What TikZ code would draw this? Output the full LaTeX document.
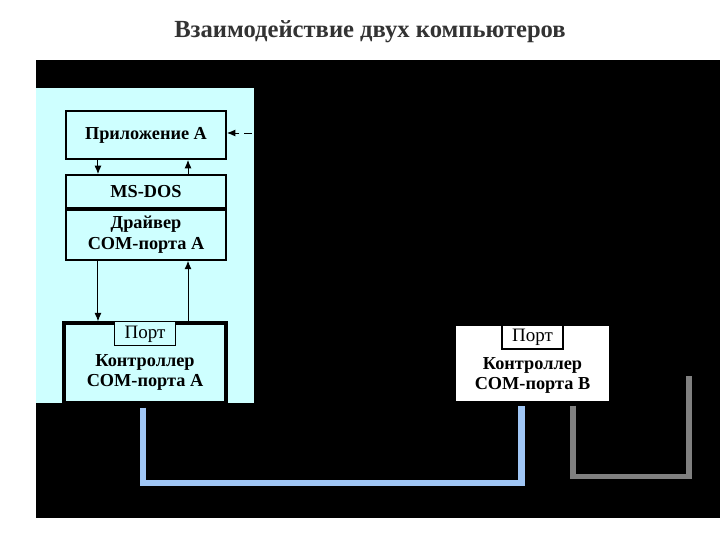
\documentclass[tikz,border=0pt]{standalone}
\usepackage{fontspec}
\setmainfont{Liberation Serif}
\usepackage{xcolor}
\usetikzlibrary{positioning,arrows.meta,calc}

\definecolor{panelcyan}{RGB}{206,255,255}
\definecolor{cableblue}{RGB}{160,198,245}
\definecolor{cablegray}{RGB}{128,128,128}

\begin{document}
\begin{tikzpicture}[
  x=0.025cm, y=-0.025cm,
  every node/.style={font=\fontsize{13}{14.5}\selectfont\bfseries, align=center},
  block/.style={rectangle, draw, line width=1.3pt, fill=panelcyan, minimum width=4cm, inner sep=0pt},
  ctrl/.style={rectangle, draw, line width=2pt, minimum width=4.05cm, minimum height=2cm, inner sep=0pt},
  port/.style={rectangle, draw, line width=0.8pt, minimum width=1.525cm, minimum height=0.6cm, inner sep=0pt, font=\fontsize{13.5}{15}\selectfont},
  arr/.style={-{Latex[length=6pt,width=5pt]}, line width=0.7pt},
  bluecable/.style={cableblue, line width=4.3pt},
  graycable/.style={cablegray, line width=3.6pt},
]
  \useasboundingbox (0,0) rectangle (720,540);
  \fill[white] (0,0) rectangle (720,540);

  % title
  \node[font=\fontsize{17.5}{20}\selectfont\bfseries, text=black!80] (title) at (370,32) {Взаимодействие двух компьютеров};

  % background and computer A panel
  \fill[black] (36,60) rectangle (720,518);
  \fill[panelcyan] (36,88) rectangle (254,403);

  % computer A
  \node[block, minimum height=1.2cm] (app) at (146,135) {Приложение А};
  \node[block, minimum height=0.825cm] (dos) at (146,191.5) {MS-DOS};
  \node[block, minimum height=1.25cm, below=0pt of dos] (drv) {Драйвер\\COM-порта А};
  \node[ctrl, fill=panelcyan, line width=2.4pt] (ctrlA) at (145,363) {};
  \node[port, fill=panelcyan, below=0pt of ctrlA.north] (portA) {Порт};
  \node[below=2pt of portA] (ctrlAtxt) {Контроллер\\COM-порта А};

  % computer B
  \node[ctrl, fill=white, line width=0.8pt, minimum width=3.875cm, minimum height=1.925cm] (ctrlB) at (532.5,363.5) {};
  \node[port, fill=white, below=0pt of ctrlB.north] (portB) {Порт};
  \node[below=2pt of portB] (ctrlBtxt) {Контроллер\\COM-порта В};

  % arrows
  \coordinate (dashStart) at (252,133);
  \draw[arr, dashed, dash pattern=on 6pt off 3pt] (dashStart) -- (app.east |- dashStart);
  \draw[arr] ([xshift=-1.2cm]app.south) -- ([xshift=-1.2cm]dos.north);
  \draw[arr] ([xshift=1.05cm]dos.north) -- ([xshift=1.05cm]app.south);
  \draw[arr] ([xshift=-1.2cm]drv.south) -- ([xshift=-1.2cm]drv.south |- ctrlA.north);
  \draw[arr] ([xshift=1.05cm]drv.south |- ctrlA.north) -- ([xshift=1.05cm]drv.south);

  % cables
  \draw[bluecable] ($(ctrlA.south)+(-2,3)$) -- ++(0,75) -| ($(ctrlB.south)+(-11,3)$);
  \coordinate (cableEnd) at (689,376);
  \draw[graycable] ($(ctrlB.south)+(40.5,3)$) -- ++(0,71) -| (cableEnd);
\end{tikzpicture}
\end{document}
